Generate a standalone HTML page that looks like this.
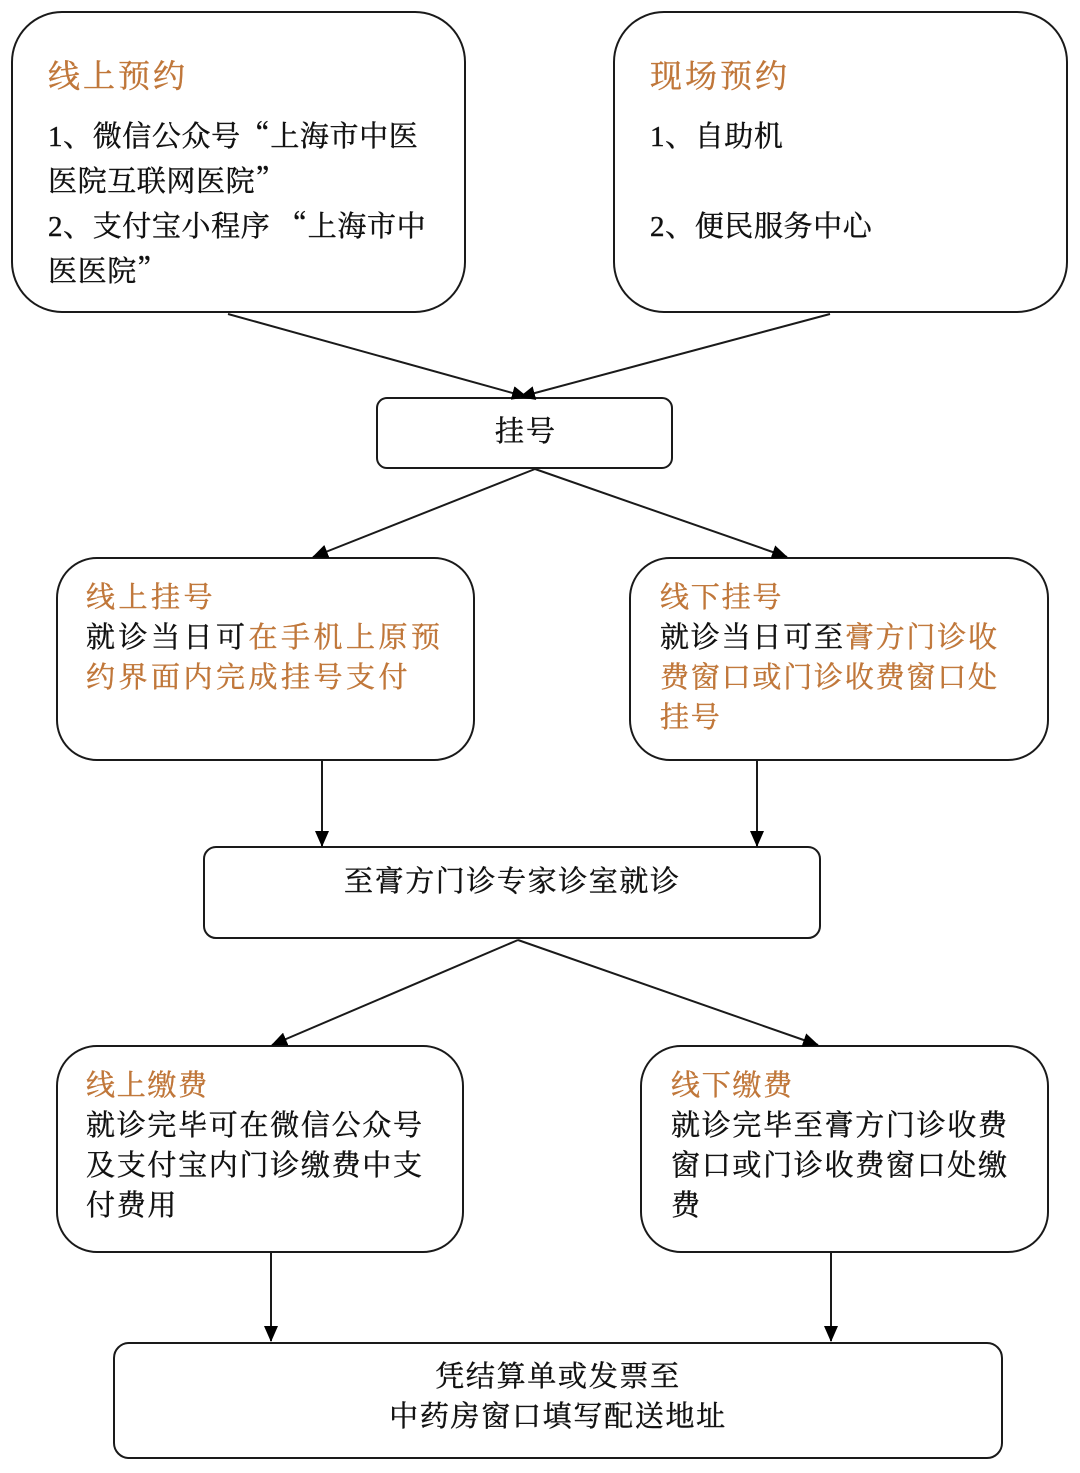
<!DOCTYPE html>
<html><head><meta charset="utf-8"><style>
body{margin:0;background:#fff;}
#c{position:relative;width:1080px;height:1473px;overflow:hidden;font-family:"Liberation Serif","Noto Serif CJK SC",serif;color:#111;}
.t{position:absolute;font-size:29px;line-height:45px;white-space:nowrap;-webkit-text-stroke:0.4px currentColor;}
.t div{height:45px;line-height:45px;overflow:visible;}
.o{color:#c0773a;}
.h{font-size:32px;letter-spacing:3px;}
.q{font-family:"Noto Serif CJK SC",serif;line-height:1;}
svg{position:absolute;left:0;top:0;}
</style></head><body><div id="c">
<svg width="1080" height="1473">
<defs>
<marker id="b" markerWidth="16" markerHeight="14" refX="15" refY="7" orient="auto" markerUnits="userSpaceOnUse" viewBox="0 0 16 14"><path d="M0,0 L16,7 L0,14 z" fill="#000"/></marker></defs>
<g fill="none" stroke="#1a1a1a" stroke-width="2">
<rect x="12" y="12" width="453" height="300" rx="50"/>
<rect x="614" y="12" width="453" height="300" rx="50"/>
<rect x="377" y="398" width="295" height="70" rx="10"/>
<rect x="57" y="558" width="417" height="202" rx="40"/>
<rect x="630" y="558" width="418" height="202" rx="40"/>
<rect x="204" y="847" width="616" height="91" rx="12"/>
<rect x="57" y="1046" width="406" height="206" rx="40"/>
<rect x="641" y="1046" width="407" height="206" rx="40"/>
<rect x="114" y="1343" width="888" height="115" rx="15"/>
<line x1="228" y1="314" x2="527" y2="397" marker-end="url(#b)"/>
<line x1="830" y1="314" x2="520" y2="397" marker-end="url(#b)"/>
<line x1="535" y1="469" x2="313" y2="557" marker-end="url(#b)"/>
<line x1="535" y1="469" x2="787" y2="557" marker-end="url(#b)"/>
<line x1="322" y1="760" x2="322" y2="846" marker-end="url(#b)"/>
<line x1="757" y1="760" x2="757" y2="846" marker-end="url(#b)"/>
<line x1="518" y1="940" x2="272" y2="1045" marker-end="url(#b)"/>
<line x1="518" y1="940" x2="818" y2="1045" marker-end="url(#b)"/>
<line x1="271" y1="1252" x2="271" y2="1341" marker-end="url(#b)"/>
<line x1="831" y1="1252" x2="831" y2="1341" marker-end="url(#b)"/>
</g></svg>
<div class="t o h" style="left:48px;top:54px">线上预约</div>
<div class="t" style="left:48px;top:115px;letter-spacing:0.6px"><div>1、微信公众号<span class="q">“</span>上海市中医</div><div>医院互联网医院<span class="q">”</span></div><div>2、支付宝小程序 <span class="q">“</span>上海市中</div><div>医医院<span class="q">”</span></div></div>
<div class="t o h" style="left:650px;top:54px">现场预约</div>
<div class="t" style="left:650px;top:115px;letter-spacing:0.6px"><div>1、自助机</div><div></div><div>2、便民服务中心</div></div>
<div class="t" style="left:495px;top:410px;letter-spacing:2px">挂号</div>
<div class="t" style="left:86px;top:578px;line-height:40px;letter-spacing:3.5px"><span class="o">线上挂号</span><br>就诊当日可<span class="o">在手机上原预<br>约界面内完成挂号支付</span></div>
<div class="t" style="left:660px;top:578px;line-height:40px;letter-spacing:1.8px"><span class="o">线下挂号</span><br>就诊当日可至<span class="o">膏方门诊收<br>费窗口或门诊收费窗口处<br>挂号</span></div>
<div class="t" style="left:344px;top:860px;letter-spacing:1.6px">至膏方门诊专家诊室就诊</div>
<div class="t" style="left:86px;top:1066px;line-height:40px;letter-spacing:1.7px"><span class="o">线上缴费</span><br>就诊完毕可在微信公众号<br>及支付宝内门诊缴费中支<br>付费用</div>
<div class="t" style="left:671px;top:1066px;line-height:40px;letter-spacing:1.7px"><span class="o">线下缴费</span><br>就诊完毕至膏方门诊收费<br>窗口或门诊收费窗口处缴<br>费</div>
<div class="t" style="left:114px;width:888px;text-align:center;top:1357px;line-height:40px;letter-spacing:1.7px">凭结算单或发票至<br>中药房窗口填写配送地址</div>
</div></body></html>
